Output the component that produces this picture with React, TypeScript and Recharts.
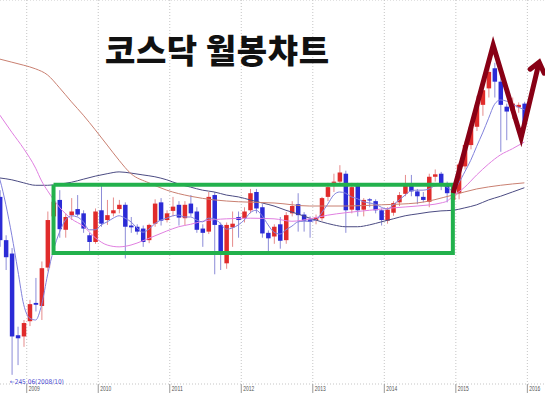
import { ComposedChart, Bar, Line, XAxis, YAxis, CartesianGrid, ReferenceDot } from 'recharts'

// 월봉: 2008-06 ~ 2016-04 (뒤쪽 몇 달은 빈칸)
const months: string[] = []
for (let y = 2008; y <= 2016; y++) {
  for (let m = 1; m <= 12; m++) {
    if (y === 2008 && m < 6) continue
    if (y === 2016 && m > 4) continue
    months.push(`${y}-${String(m).padStart(2, '0')}`)
  }
}
const yearTicks = ['2009-01', '2010-01', '2011-01', '2012-01', '2013-01', '2014-01', '2015-01', '2016-01']
const priceTicks = [250, 270, 290, 310, 330, 350, 370, 390, 410, 430, 450, 470, 490, 510, 530, 550, 570, 590, 610, 630, 650, 670, 690, 710, 730, 750, 770, 790, 810, 830, 850]

// 2008-08 ~ 2015-12
const firstCandle = '2008-08'
const opens = [
  537, 466, 444, 310, 308,
  333, 363, 358, 421, 505, 532, 483, 507, 517, 510, 474, 463,
  515, 499, 510, 517, 524, 490, 488, 485, 466, 493, 528, 499,
  514, 524, 502, 526, 513, 485, 480, 540, 491, 428, 487, 504,
  502, 515, 545, 520, 478, 472, 492, 466, 510, 525, 508, 500,
  499, 502, 537, 560, 562, 575, 516, 556, 516, 533, 530, 515,
  498, 511, 528, 542, 557, 546, 537, 529, 570, 575, 556, 532,
  543, 587, 622, 652, 688, 715, 748, 726, 685, 678, 684, 690,
]
const highs = [
  548, 474, 453, 324, 335,
  368, 404, 431, 513, 540, 548, 510, 535, 540, 515, 478, 518,
  557, 532, 536, 532, 528, 504, 492, 490, 493, 533, 535, 515,
  537, 530, 530, 540, 520, 492, 545, 545, 495, 495, 513, 513,
  520, 550, 550, 525, 482, 492, 504, 512, 530, 543, 512, 505,
  508, 537, 560, 575, 589, 580, 560, 560, 535, 535, 533, 518,
  520, 530, 545, 573, 573, 550, 545, 575, 582, 578, 562, 546,
  593, 628, 655, 703, 725, 750, 757, 735, 690, 700, 692, 693,
]
const lows = [
  455, 417, 245.06, 261, 291,
  325, 349, 335, 415, 490, 470, 470, 499, 505, 478, 447, 460,
  488, 491, 505, 510, 436, 478, 475, 455, 461, 488, 490, 495,
  505, 490, 490, 505, 478, 455, 476, 410, 417, 419, 455, 470,
  495, 510, 510, 470, 447, 460, 452, 460, 505, 480, 480, 470,
  492, 498, 530, 545, 556, 478, 510, 505, 505, 520, 510, 490,
  493, 506, 522, 538, 538, 525, 528, 520, 562, 548, 528, 525,
  533, 582, 615, 645, 670, 700, 700, 611, 630, 665, 675, 650,
]
const closes = [
  466, 438, 308, 305, 330,
  361, 360, 420, 499, 529, 484, 504, 513, 508, 485, 463, 513,
  493, 507, 515, 524, 488, 487, 480, 463, 491, 526, 498, 510,
  521, 503, 524, 510, 483, 478, 537, 491, 447, 491, 493, 499,
  513, 543, 518, 477, 469, 488, 465, 507, 522, 507, 498, 496,
  503, 535, 553, 562, 577, 515, 553, 515, 532, 531, 515, 499,
  516, 527, 540, 557, 546, 538, 532, 570, 574, 559, 543, 542,
  590, 622, 652, 688, 712, 742, 726, 688, 677, 690, 688, 656,
]

// 5개월 이동평균 (2008-06 ~ 2015-12)
const ma5 = [
  614, 589, 565, 524, 474, 417, 360, 338, 335, 360,
  409, 450, 479, 499, 506, 504, 496, 483, 483, 491,
  496, 502, 506, 502, 496, 486, 479, 484, 493, 499,
  502, 506, 507, 504, 504, 499, 496, 502, 501, 493,
  484, 486, 491, 499, 511, 515, 506, 491, 479, 476,
  483, 489, 496, 497, 497, 499, 511, 525, 540, 545,
  543, 537, 534, 529, 527, 525, 520, 517, 524, 532,
  540, 547, 548, 548, 550, 555, 556, 553, 547, 560,
  578, 597, 620, 642, 666, 689, 696, 694, 689, 684,
  680,
]
const ma20: [string, number][] = [
  ['2008-06', 699], ['2008-08', 671], ['2008-10', 643], ['2008-12', 616], ['2009-02', 584],
  ['2009-03', 563], ['2009-04', 547], ['2009-06', 520], ['2009-08', 501], ['2009-10', 489],
  ['2009-12', 470], ['2010-02', 458], ['2010-04', 455], ['2010-06', 458], ['2010-08', 465],
  ['2010-10', 473], ['2010-12', 481], ['2011-02', 488], ['2011-04', 492], ['2011-06', 497],
  ['2011-10', 501], ['2012-02', 502], ['2012-06', 501], ['2012-09', 497], ['2012-12', 501],
  ['2013-03', 507], ['2013-06', 511], ['2013-10', 515], ['2014-02', 519], ['2014-06', 522],
  ['2014-10', 527], ['2014-11', 530], ['2014-12', 538], ['2015-02', 553], ['2015-04', 573],
  ['2015-06', 591], ['2015-08', 606], ['2015-10', 616], ['2015-12', 627],
]
const ma60: [string, number][] = [
  ['2008-06', 768], ['2008-08', 763], ['2008-10', 758], ['2008-12', 753], ['2009-02', 747],
  ['2009-04', 737], ['2009-06', 716], ['2009-08', 693], ['2009-10', 671], ['2009-12', 647],
  ['2010-02', 622], ['2010-04', 597], ['2010-06', 575], ['2010-09', 560], ['2010-12', 548],
  ['2011-04', 538], ['2011-08', 532], ['2011-12', 529], ['2012-06', 527], ['2012-12', 522],
  ['2013-06', 522], ['2013-12', 524], ['2014-06', 527], ['2014-12', 540], ['2015-04', 550],
  ['2015-08', 556], ['2015-12', 560],
]
const ma120: [string, number][] = [
  ['2008-06', 570], ['2008-08', 568], ['2008-10', 565], ['2008-12', 560], ['2009-02', 556],
  ['2009-04', 556], ['2009-06', 558], ['2009-08', 561], ['2009-10', 566], ['2009-12', 571],
  ['2010-02', 575], ['2010-04', 578], ['2010-06', 576], ['2010-08', 573], ['2010-10', 570],
  ['2010-12', 565], ['2011-02', 558], ['2011-04', 553], ['2011-06', 548], ['2011-08', 545],
  ['2011-10', 540], ['2011-12', 537], ['2012-02', 532], ['2012-04', 527], ['2012-06', 522],
  ['2012-08', 515], ['2012-10', 509], ['2012-12', 502], ['2013-02', 496], ['2013-04', 491],
  ['2013-06', 488], ['2013-08', 488], ['2013-10', 491], ['2013-12', 496], ['2014-02', 501],
  ['2014-04', 506], ['2014-06', 509], ['2014-08', 512], ['2014-10', 514], ['2014-12', 515],
  ['2015-02', 519], ['2015-04', 524], ['2015-06', 532], ['2015-08', 538], ['2015-10', 545],
  ['2015-12', 552],
]

// 손으로 그린 박스와 화살표 (월 위치는 2008-06 = 0 기준)
const boxMonths = [11, 78]
const boxPrices = [445, 557]
const zigzag = [
  { t: 78.05, z: 543 },
  { t: 84.77, z: 786 },
  { t: 89.46, z: 634 },
  { t: 92.48, z: 758 },
]

const first = months.indexOf(firstCandle)
// 연도 구분선은 1월 봉의 왼쪽 경계
const yearPos = yearTicks.map((m) => months.indexOf(m) - 0.5)
const m20 = new Map(ma20)
const m60 = new Map(ma60)
const m120 = new Map(ma120)

const rows = months.map((m, i) => {
  const k = i - first
  const has = k >= 0 && k < opens.length
  return {
    m,
    open: has ? opens[k] : null,
    high: has ? highs[k] : null,
    low: has ? lows[k] : null,
    close: has ? closes[k] : null,
    range: has ? [lows[k], highs[k]] : null,
    ma5: i < ma5.length ? ma5[i] : null,
    ma20: m20.get(m) ?? null,
    ma60: m60.get(m) ?? null,
    ma120: m120.get(m) ?? null,
  }
})

const boxLine = [
  { t: boxMonths[0], b: boxPrices[1] },
  { t: boxMonths[1], b: boxPrices[1] },
  { t: boxMonths[1], b: boxPrices[0] },
  { t: boxMonths[0], b: boxPrices[0] },
  { t: boxMonths[0], b: boxPrices[1] },
]

const RED = '#e02b2b'
const BLUE = '#2b2bd6'
const AXIS_Y = 384

function Candle(props: any) {
  const { x, y, width, height, payload } = props
  if (!payload || payload.open == null) return <g />
  const { open, close, high, low } = payload
  const top = Math.min(y, y + height)
  const h = Math.abs(height)
  const span = high - low || 1
  const py = (v: number) => top + ((high - v) / span) * h
  const up = close >= open
  const b1 = py(Math.max(open, close))
  const b2 = py(Math.min(open, close))
  const cx = x + width / 2
  return (
    <g>
      <line x1={cx} x2={cx} y1={top} y2={top + h} stroke={up ? '#e68c8c' : '#8c8cd8'} strokeWidth={1} />
      <rect x={x} y={b1} width={width} height={Math.max(b2 - b1, 1.2)} fill={up ? RED : BLUE} />
    </g>
  )
}

function YearTick(props: any) {
  const { x, payload } = props
  const label = months[Math.round(payload.value + 0.5)]?.slice(0, 4) ?? ''
  return (
    <g>
      <line x1={x} x2={x} y1={AXIS_Y} y2={AXIS_Y + 9} stroke="#9a9a9a" />
      <text
        x={x + 2}
        y={AXIS_Y + 7}
        fontSize={7}
        fill="#555"
        fontFamily="'Liberation Sans', Arial"
        textLength={11}
        lengthAdjust="spacingAndGlyphs"
      >
        {label}
      </text>
    </g>
  )
}

function ArrowHead(props: any) {
  const { cx, cy, index } = props
  if (index !== zigzag.length - 1) return <g key={index} />
  return (
    <path
      key={index}
      d={`M${cx - 9},${cy + 7} L${cx},${cy} L${cx + 5},${cy + 11}`}
      fill="none"
      stroke="#880015"
      strokeWidth={5}
      strokeLinejoin="miter"
      strokeLinecap="round"
    />
  )
}

export default function App() {
  return (
    <div style={{ position: 'fixed', left: 0, top: 0, width: 545, height: 393, overflow: 'hidden', background: '#fff' }}>
      <div style={{ position: 'absolute', left: -15.18, top: 0 }}>
        <ComposedChart width={566.2} height={393} data={rows} margin={{ top: 0, right: 0, bottom: 0, left: 0 }}>
          <CartesianGrid xAxisId="ann" stroke="#c4c4c4" strokeDasharray="1 2" />
          <XAxis dataKey="m" hide />
          <XAxis
            xAxisId="ann"
            dataKey="t"
            type="number"
            domain={[-0.5, months.length - 0.5]}
            allowDataOverflow
            ticks={yearPos}
            interval={0}
            height={9}
            tickSize={0}
            tickMargin={0}
            tick={<YearTick />}
            axisLine={{ stroke: '#a0a0a0' }}
          />
          <YAxis domain={[230, 860]} ticks={priceTicks} allowDataOverflow width={0} tick={false} axisLine={false} tickLine={false} />
          <Line dataKey="ma120" stroke="#4a4a82" strokeWidth={1} dot={false} activeDot={false} connectNulls type="monotone" isAnimationActive={false} />
          <Line dataKey="ma60" stroke="#c98070" strokeWidth={1} dot={false} activeDot={false} connectNulls type="monotone" isAnimationActive={false} />
          <Line dataKey="ma20" stroke="#e07ee0" strokeWidth={1} dot={false} activeDot={false} connectNulls type="monotone" isAnimationActive={false} />
          <Bar dataKey="range" barSize={4.5} shape={(p: any) => <Candle {...p} />} activeBar={false} isAnimationActive={false} />
          <Line dataKey="ma5" stroke="#8282dc" strokeWidth={1} dot={false} activeDot={false} type="monotone" isAnimationActive={false} />
          <Line
            xAxisId="ann"
            data={boxLine}
            dataKey="b"
            stroke="#22b14c"
            strokeWidth={4}
            strokeLinejoin="miter"
            dot={false}
            activeDot={false}
            isAnimationActive={false}
          />
          <Line
            xAxisId="ann"
            data={zigzag}
            dataKey="z"
            stroke="#880015"
            strokeWidth={5}
            strokeLinejoin="miter"
            strokeMiterlimit={12}
            dot={(p: any) => <ArrowHead {...p} />}
            activeDot={false}
            isAnimationActive={false}
          />
          <ReferenceDot
            x="2008-10"
            y={245.06}
            r={1}
            shape={(p: any) => (
              <text x={p.cx - 2} y={p.cy + 9.5} fontSize={6.5} fill="#4a4ad0" fontFamily="'DejaVu Sans Condensed', Arial">
                ←245.06(2008/10)
              </text>
            )}
          />
        </ComposedChart>
      </div>
      <svg width={545} height={393} style={{ position: 'absolute', left: 0, top: 0, pointerEvents: 'none' }}>
        <text
          x={105}
          y={63}
          fontSize={33}
          fontWeight={900}
          fill="#111"
          fontFamily="'Noto Sans CJK KR', sans-serif"
          textLength={224}
          lengthAdjust="spacing"
        >
          코스닥 월봉챠트
        </text>
      </svg>
    </div>
  )
}
